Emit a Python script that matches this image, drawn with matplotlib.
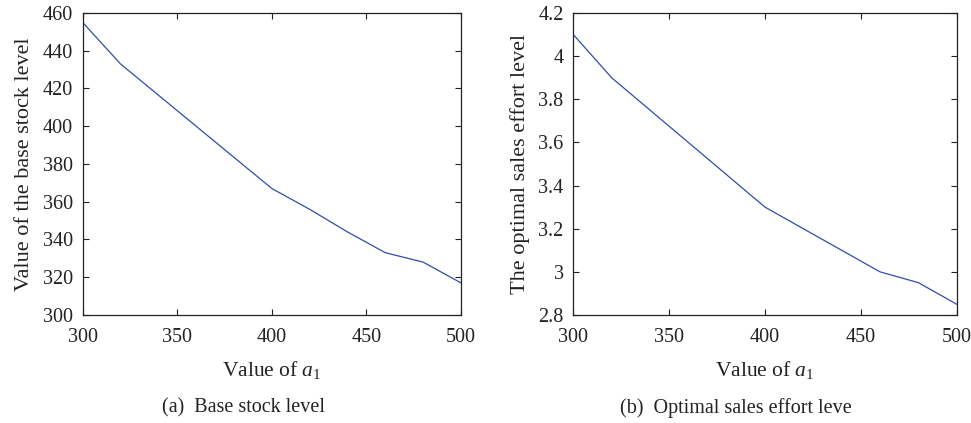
import matplotlib
matplotlib.use("Agg")
import matplotlib.pyplot as plt
from matplotlib.ticker import FuncFormatter

a1_values = [300, 320, 340, 360, 380, 400, 420, 440, 460, 480, 500]
base_stock = [455, 433, 416.5, 400, 383.5, 367, 356, 344, 333, 328, 317]
sales_effort = [4.10, 3.90, 3.75, 3.60, 3.45, 3.30, 3.20, 3.10, 3.00, 2.95, 2.85]

x_ticks = [300, 350, 400, 450, 500]
y1_ticks = [300, 320, 340, 360, 380, 400, 420, 440, 460]
y2_ticks = [2.8, 3.0, 3.2, 3.4, 3.6, 3.8, 4.0, 4.2]

plt.rcParams['font.family'] = ['Liberation Serif', 'DejaVu Serif']
plt.rcParams['mathtext.fontset'] = 'custom'
plt.rcParams['mathtext.it'] = 'Liberation Serif:italic'
plt.rcParams['mathtext.rm'] = 'Liberation Serif'

W, H = 971, 423
fig = plt.figure(figsize=(W / 100, H / 100), dpi=100)

line_color = '#2f4fa6'
tick_fs = 14.5
label_fs = 15.5
ylab_fs = 16
text_color = '#222222'

def style(ax):
    for s in ax.spines.values():
        s.set_linewidth(0.9)
        s.set_color(text_color)
    ax.tick_params(direction='in', top=True, right=True, length=4, width=0.8,
                   labelsize=tick_fs, colors=text_color, labelcolor=text_color)
    ax.tick_params(axis='x', pad=9)
    ax.tick_params(axis='y', pad=7)
    ax.set_xticks(x_ticks)
    ax.set_xlim(300, 500)
    ax.set_xlabel(r'Value of $a_1$', fontsize=label_fs, labelpad=9, color=text_color)

fmt = FuncFormatter(lambda v, p: '%g' % round(v, 2))

ax1 = fig.add_axes([82.7 / W, 1 - 315 / H, (461 - 82.7) / W, (315 - 13) / H])
ax1.plot(a1_values, base_stock, color=line_color, lw=0.9)
ax1.set_ylim(300, 460)
ax1.set_yticks(y1_ticks)
style(ax1)
ax1.set_ylabel('Value of the base stock level', fontsize=ylab_fs, labelpad=6, color=text_color)

ax2 = fig.add_axes([573.3 / W, 1 - 315 / H, (956.7 - 573.3) / W, (315 - 13) / H])
ax2.plot(a1_values, sales_effort, color=line_color, lw=0.9)
ax2.set_ylim(2.8, 4.2)
ax2.set_yticks(y2_ticks)
ax2.yaxis.set_major_formatter(fmt)
style(ax2)
ax2.set_ylabel('The optimal sales effort level', fontsize=ylab_fs, labelpad=6, color=text_color)

fig.text(243 / W, 1 - 408 / H, '(a)  Base stock level', ha='center', va='center',
         fontsize=14.5, color=text_color)
fig.text(736 / W, 1 - 408 / H, '(b)  Optimal sales effort leve', ha='center', va='center',
         fontsize=14.5, color=text_color)

fig.savefig('out.png', dpi=100)
